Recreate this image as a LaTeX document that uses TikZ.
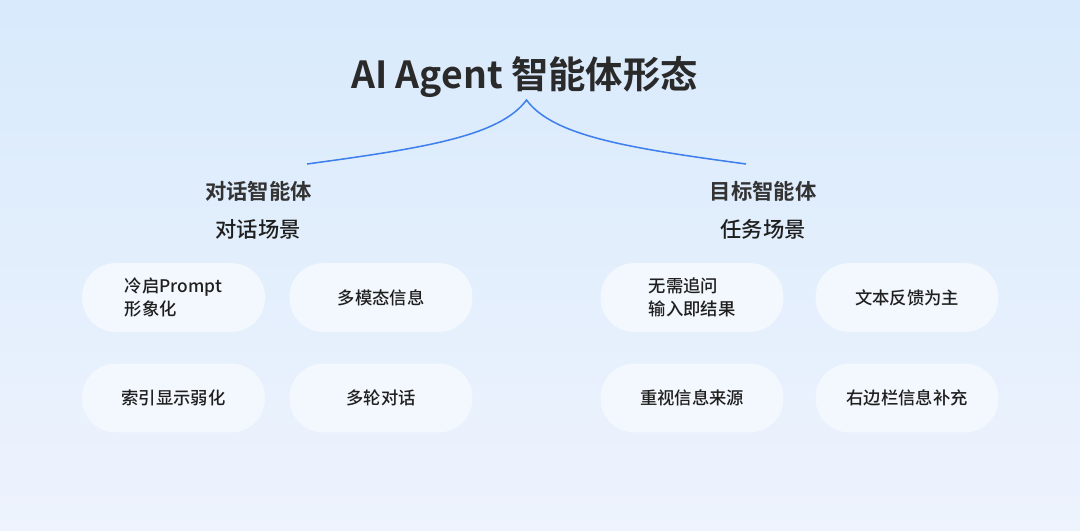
\documentclass[tikz,border=0pt]{standalone}
\usepackage{fontspec}
\setmainfont{Noto Sans CJK SC}
\newfontfamily\cjkbold{Noto Sans CJK SC Bold}
\newfontfamily\cjkmed{Noto Sans CJK SC Medium}
\definecolor{bgtop}{HTML}{D8EAFC}
\definecolor{bgbot}{HTML}{EEF3FD}
\definecolor{pillfill}{HTML}{F3F8FE}
\definecolor{curveblue}{HTML}{3F80EE}
\definecolor{titletext}{HTML}{2A2A2A}
\definecolor{subtext}{HTML}{333333}
\definecolor{pilltext}{HTML}{1F1F1F}
\begin{document}
\begin{tikzpicture}[x=0.75pt,y=-0.75pt,
  title/.style={font=\cjkbold\fontsize{28}{32}\selectfont, text=titletext, inner sep=0pt},
  grouphead/.style={font=\cjkbold\fontsize{16}{19}\selectfont, text=subtext, inner sep=0pt},
  groupsub/.style={font=\cjkmed\fontsize{16}{19}\selectfont, text=pilltext, inner sep=0pt},
  pill/.style={rectangle, rounded corners=25pt, fill=pillfill, draw=none,
    minimum width=137pt, minimum height=51.5pt, inner sep=0pt,
    font=\cjkmed\fontsize{13}{17.3}\selectfont, text=pilltext, align=left},
  link/.style={draw=curveblue, line width=1.15pt}
]
\useasboundingbox (0,0) rectangle (1080,531);
\shade[top color=bgtop, bottom color=bgbot] (0,0) rectangle (1080,531);

\node[title] (title) at (524.5,77) {AI Agent 智能体形态};

\coordinate (peak) at (526.5,100);
\coordinate (lend) at (307,164);
\coordinate (rend) at (746,164);
\draw[link] (lend) .. controls (425,148) and (500,136) .. (peak)
            .. controls (553,136) and (628,148) .. (rend);

\node[grouphead] (lhead) at (258.5,191) {对话智能体};
\node[groupsub] (lsub) at (258,229) {对话场景};
\node[grouphead] (rhead) at (763,191) {目标智能体};
\node[groupsub] (rsub) at (763,229) {任务场景};

\node[pill] (p1) at (173.5,297.5) {冷启Prompt\\形象化};
\node[pill] (p2) at (381,297.5) {多模态信息};
\node[pill] (p3) at (173.5,398) {索引显示弱化};
\node[pill] (p4) at (381,398) {多轮对话};

\node[pill] (q1) at (692,297.5) {无需追问\\输入即结果};
\node[pill] (q2) at (907,297.5) {文本反馈为主};
\node[pill] (q3) at (692,398) {重视信息来源};
\node[pill] (q4) at (907,398) {右边栏信息补充};
\end{tikzpicture}
\end{document}
